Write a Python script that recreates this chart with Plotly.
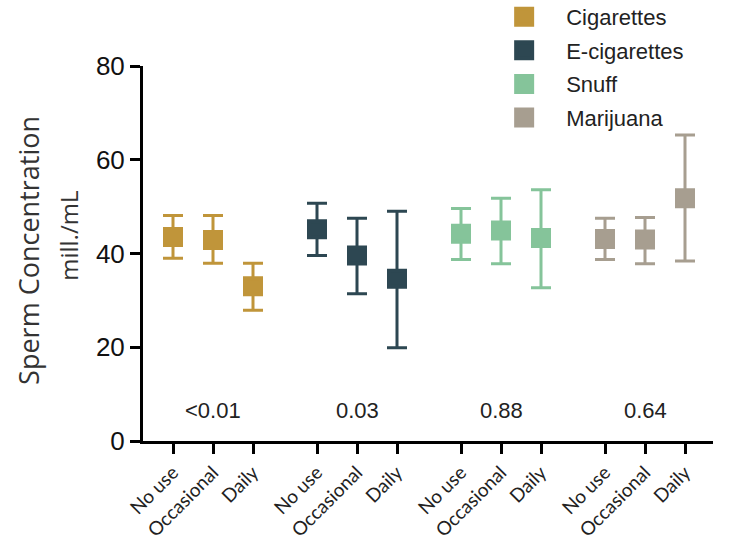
import plotly.graph_objects as go

substances = ["Cigarettes", "E-cigarettes", "Snuff", "Marijuana"]
colors = ["#C0953A", "#2D4752", "#85C49A", "#A79E90"]
levels = ["No use", "Occasional", "Daily"]

cig_mean = [43.5, 42.9, 33.0]
cig_upper = [48.1, 48.1, 37.9]
cig_lower = [39.0, 37.9, 27.9]

ecig_mean = [45.2, 39.6, 34.6]
ecig_upper = [50.7, 47.5, 49.0]
ecig_lower = [39.6, 31.4, 19.9]

snuff_mean = [44.2, 44.9, 43.3]
snuff_upper = [49.6, 51.8, 53.6]
snuff_lower = [38.7, 37.8, 32.7]

mari_mean = [43.1, 43.0, 51.8]
mari_upper = [47.5, 47.7, 65.3]
mari_lower = [38.7, 37.8, 38.4]

p_values = ["<0.01", "0.03", "0.88", "0.64"]

means = [cig_mean, ecig_mean, snuff_mean, mari_mean]
uppers = [cig_upper, ecig_upper, snuff_upper, mari_upper]
lowers = [cig_lower, ecig_lower, snuff_lower, mari_lower]

GROUP_STEP = 3.6

fig = go.Figure()
tickvals, ticktext = [], []
for g, name in enumerate(substances):
    xs = [g * GROUP_STEP + i for i in range(len(levels))]
    tickvals += xs
    ticktext += levels
    m, u, l = means[g], uppers[g], lowers[g]
    fig.add_trace(go.Scatter(
        x=xs, y=m, mode="markers", name=name, legendgroup=name,
        marker=dict(symbol="square", size=16, color=colors[g],
                    line=dict(width=4, color=colors[g])),
        error_y=dict(type="data", symmetric=False,
                     array=[a - b for a, b in zip(u, m)],
                     arrayminus=[b - c for b, c in zip(m, l)],
                     color=colors[g], thickness=3, width=10),
    ))
    fig.add_annotation(x=g * GROUP_STEP + 1, y=6.6, text=p_values[g], showarrow=False,
                       font=dict(size=22, family="Liberation Sans", color="#222"))

# y-axis title (two lines)
fig.add_annotation(xref="paper", yref="paper", x=-0.2, y=0.507, text="Sperm Concentration",
                   textangle=-90, showarrow=False, xanchor="center", yanchor="middle",
                   font=dict(size=27, family="Open Sans", color="#333"))
fig.add_annotation(xref="paper", yref="paper", x=-0.13, y=0.547, text="mill./mL",
                   textangle=-90, showarrow=False, xanchor="center", yanchor="middle",
                   font=dict(size=24, family="Open Sans", color="#333"))

fig.update_layout(
    width=733, height=543,
    margin=dict(l=143, r=20, t=66, b=102, autoexpand=False),
    plot_bgcolor="white", paper_bgcolor="white",
    showlegend=True,
    legend=dict(x=0.595, y=1.187, xanchor="left", yanchor="top",
                font=dict(size=22, family="Liberation Sans", color="#222"),
                bgcolor="rgba(0,0,0,0)", itemwidth=74, tracegroupgap=2),
    xaxis=dict(range=[-0.75, 13.5], tickvals=tickvals, ticktext=ticktext,
               tickangle=-45, showline=True, linecolor="black", linewidth=3,
               ticks="outside", ticklen=10, tickwidth=3, tickcolor="black",
               showgrid=False, zeroline=False, automargin=False,
               tickfont=dict(size=19, family="Lato", color="#222")),
    yaxis=dict(range=[0, 80], tickvals=[0, 20, 40, 60, 80],
               showline=True, linecolor="black", linewidth=3,
               ticks="outside", ticklen=10, tickwidth=3, tickcolor="black",
               showgrid=False, zeroline=False, automargin=False,
               tickfont=dict(size=26, family="Liberation Sans", color="#111")),
)

fig.write_html("out.html", config={"displayModeBar": False},
               post_script="document.body.style.margin='0';")
